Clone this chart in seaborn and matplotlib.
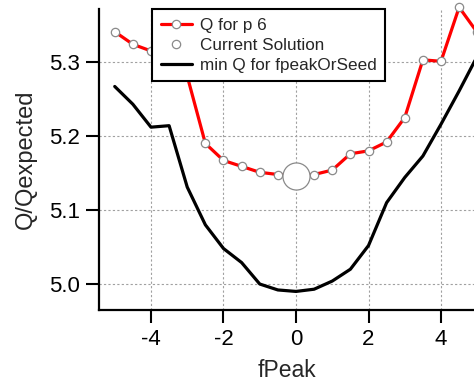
import matplotlib
matplotlib.use("Agg")
import matplotlib.pyplot as plt
from matplotlib.lines import Line2D
import seaborn as sns
import pandas as pd

fpeak = [-5, -4.5, -4, -3.5, -3, -2.5, -2, -1.5, -1, -0.5, 0,
         0.5, 1, 1.5, 2, 2.5, 3, 3.5, 4, 4.5, 5]
q_p6 = [5.341, 5.324, 5.315, 5.305, 5.281, 5.190, 5.167, 5.159, 5.151, 5.148, 5.146,
        5.148, 5.154, 5.176, 5.180, 5.192, 5.225, 5.303, 5.301, 5.374, 5.340]
min_q = [5.267, 5.243, 5.212, 5.214, 5.131, 5.080, 5.048, 5.029, 5.000, 4.992, 4.990,
         4.993, 5.004, 5.020, 5.052, 5.110, 5.144, 5.173, 5.216, 5.261, 5.308]
current_x = [0]
current_y = [5.146]

labels = ["Q for p 6", "Current Solution", "min Q for fpeakOrSeed"]

sns.set_style("ticks")
plt.rcParams['font.family'] = ['Liberation Sans', 'DejaVu Sans']

df = pd.DataFrame({"fPeak": fpeak, "q": q_p6, "minq": min_q})
cur = pd.DataFrame({"fPeak": current_x, "q": current_y})

fig = plt.figure(figsize=(4.74, 3.85), dpi=100)
ax = fig.add_axes([99/474, 1 - 310/385, 1 - 99/474, (310 - 9)/385])

edge = "#8a8a8a"
sns.lineplot(data=df, x="fPeak", y="minq", ax=ax, color="black", linewidth=2.3, zorder=3)
sns.lineplot(data=df, x="fPeak", y="q", ax=ax, color="#ff0000", linewidth=2.3,
             marker="o", markersize=6, markerfacecolor="white",
             markeredgecolor=edge, markeredgewidth=0.9, zorder=4)
for ln in ax.get_lines():
    ln.set_clip_on(False)
sns.scatterplot(data=cur, x="fPeak", y="q", ax=ax, s=380, facecolor="white",
                edgecolor=edge, linewidth=0.9, zorder=5)

ax.set_xlim(-5.434, 4.91)
ax.set_ylim(4.9649, 5.3717)
ax.set_xticks([-4, -2, 0, 2, 4])
ax.set_xticklabels(["-4", "-2", "0", "2", "4"])
ax.set_yticks([5.0, 5.1, 5.2, 5.3])
ax.set_yticklabels(["5.0", "5.1", "5.2", "5.3"])

ax.grid(True, color="#a0a0a0", linestyle=(0, (2, 2)), linewidth=0.8)
ax.set_axisbelow(True)
for s in ["top", "right"]:
    ax.spines[s].set_visible(False)
for s in ["left", "bottom"]:
    ax.spines[s].set_linewidth(1.6)
    ax.spines[s].set_color("black")
ax.tick_params(axis="both", direction="out", length=9.5, width=1.5,
               labelsize=16, colors="black", pad=4)

ax.set_xlabel("fPeak", fontsize=16.5, labelpad=7)
ax.set_ylabel("Q/Qexpected", fontsize=17, labelpad=9)

h_red = Line2D([], [], color="#ff0000", linewidth=2.3, marker="o", markersize=6,
               markerfacecolor="white", markeredgecolor=edge, markeredgewidth=0.9)
h_cur = Line2D([], [], linestyle="none", marker="o", markersize=6,
               markerfacecolor="white", markeredgecolor=edge, markeredgewidth=0.9)
h_min = Line2D([], [], color="black", linewidth=2.3)
leg = ax.legend([h_red, h_cur, h_min], labels, loc="upper left",
                bbox_to_anchor=(53/375, 1.0), fontsize=12.3, frameon=True,
                fancybox=False, framealpha=1, edgecolor="black",
                handlelength=1.85, handletextpad=0.45, borderpad=0.5,
                labelspacing=0.3, borderaxespad=0)
leg.get_frame().set_linewidth(1.5)
leg.set_zorder(10)

fig.savefig("out.png", dpi=100)
